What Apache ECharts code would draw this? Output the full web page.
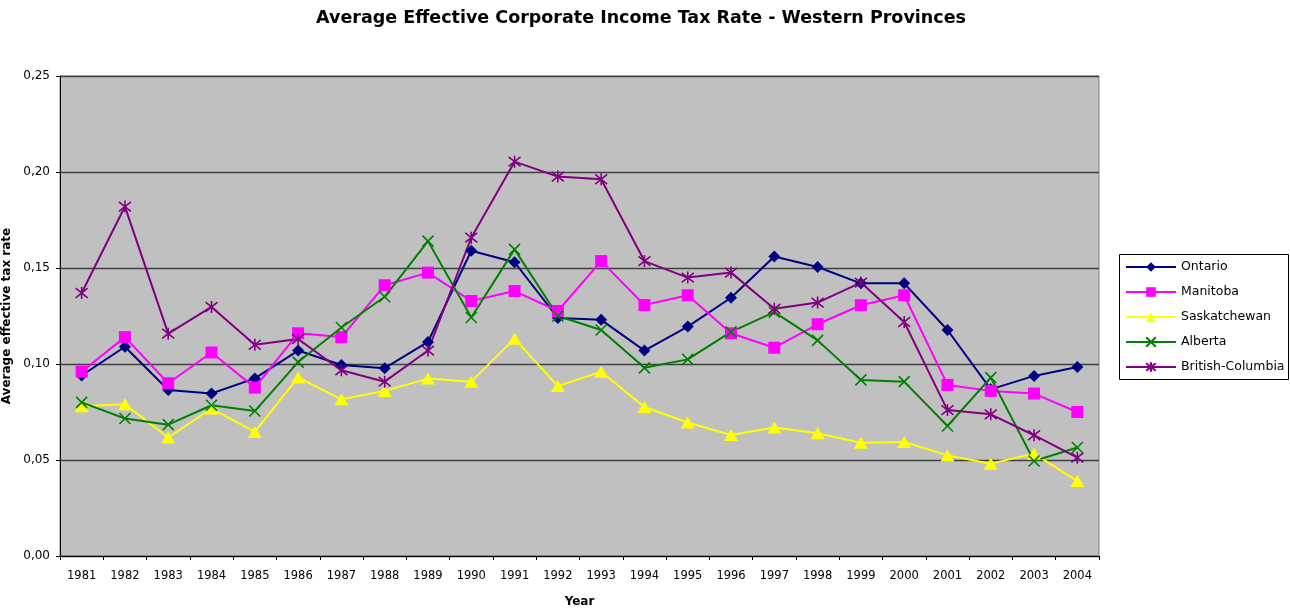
<!DOCTYPE html>
<html>
<head>
<meta charset="utf-8">
<script src="https://cdn.jsdelivr.net/npm/echarts@6/dist/echarts.min.js"></script>
<style>
  html, body { margin: 0; padding: 0; background: #ffffff; }
  #chart { width: 1290px; height: 609px; }
</style>
</head>
<body>
<div id="chart"></div>
<script>
// Average effective corporate income tax rate, 1981-2004
const years = ['1981','1982','1983','1984','1985','1986','1987','1988','1989','1990','1991','1992',
               '1993','1994','1995','1996','1997','1998','1999','2000','2001','2002','2003','2004'];

const ontario = [0.094, 0.109, 0.0865, 0.0846, 0.0925, 0.107, 0.0995, 0.0978, 0.1115, 0.159, 0.153, 0.124,
                 0.123, 0.107, 0.1195, 0.1345, 0.156, 0.1505, 0.142, 0.142, 0.1177, 0.0868, 0.0938, 0.0984];
const manitoba = [0.096, 0.114, 0.090, 0.106, 0.0877, 0.116, 0.114, 0.141, 0.1476, 0.1328, 0.138, 0.1276,
                  0.1536, 0.1307, 0.1358, 0.116, 0.1085, 0.1207, 0.1306, 0.1358, 0.0891, 0.086, 0.0846, 0.075];
const saskatchewan = [0.078, 0.079, 0.0617, 0.0768, 0.0646, 0.093, 0.0816, 0.086, 0.0924, 0.0908, 0.1132, 0.0885,
                      0.096, 0.0776, 0.0695, 0.063, 0.0669, 0.0639, 0.059, 0.0594, 0.0524, 0.0481, 0.0533, 0.039];
const alberta = [0.080, 0.0716, 0.0684, 0.0785, 0.0755, 0.101, 0.119, 0.135, 0.164, 0.1242, 0.1597, 0.125,
                 0.1177, 0.098, 0.1024, 0.1167, 0.127, 0.1123, 0.0917, 0.0908, 0.0677, 0.0929, 0.0495, 0.0565];
const britishColumbia = [0.137, 0.182, 0.1158, 0.1297, 0.110, 0.113, 0.0967, 0.0908, 0.107, 0.1658, 0.2054, 0.1976,
                         0.1962, 0.1536, 0.145, 0.1476, 0.1288, 0.132, 0.1424, 0.1219, 0.076, 0.0738, 0.0629, 0.0512];

const FONT = '"DejaVu Sans", sans-serif';
const X_MARK = 'path://M0,0L10,10M10,0L0,10';
const STAR_MARK = 'path://M1,1L9,9M9,1L1,9M5,0L5,10';

function lineSeries(name, data, color, symbol, size, stroked) {
  return {
    name: name,
    type: 'line',
    data: data,
    symbol: symbol,
    symbolSize: size,
    showAllSymbol: true,
    lineStyle: { color: color, width: 2 },
    itemStyle: stroked
      ? { color: color, borderColor: color, borderWidth: 1.6 }
      : { color: color, borderWidth: 0 },
    emphasis: { disabled: true },
    animation: false
  };
}

const chart = echarts.init(document.getElementById('chart'), null, { renderer: 'canvas' });

chart.setOption({
  backgroundColor: '#ffffff',
  animation: false,
  title: {
    text: 'Average Effective Corporate Income Tax Rate - Western Provinces',
    left: 636,
    textAlign: 'center',
    top: 4,
    textStyle: { fontFamily: FONT, fontSize: 17.5, fontWeight: 'bold', color: '#000' }
  },
  graphic: [{
    type: 'rect',
    z: 0,
    shape: { x: 1119.5, y: 254.5, width: 169, height: 125 },
    style: { fill: '#ffffff', stroke: '#000000', lineWidth: 1 }
  }],
  legend: {
    orient: 'vertical',
    left: 1125,
    top: 260.5,
    itemWidth: 50,
    itemHeight: 12,
    itemGap: 12,
    padding: 0,
    z: 5,
    textStyle: { fontFamily: FONT, fontSize: 12.5, color: '#000' },
    data: ['Ontario', 'Manitoba', 'Saskatchewan', 'Alberta', 'British-Columbia']
  },
  grid: {
    left: 60,
    right: 191,
    top: 76,
    bottom: 53,
    outerBoundsMode: 'none',
    containLabel: false,
    show: true,
    backgroundColor: '#c0c0c0',
    borderColor: '#808080',
    borderWidth: 1
  },
  xAxis: {
    type: 'category',
    data: years,
    boundaryGap: true,
    name: 'Year',
    nameLocation: 'middle',
    nameGap: 40,
    nameTextStyle: { fontFamily: FONT, fontSize: 12, fontWeight: 'bold', color: '#000' },
    axisLine: { lineStyle: { color: '#000', width: 1 } },
    axisTick: { show: true, length: 4, inside: false, lineStyle: { color: '#000' } },
    axisLabel: { fontFamily: FONT, fontSize: 11.5, color: '#000', margin: 14, interval: 0 },
    splitLine: { show: false }
  },
  yAxis: {
    type: 'value',
    min: 0,
    max: 0.25,
    interval: 0.05,
    name: 'Average effective tax rate',
    nameLocation: 'middle',
    nameGap: 44,
    nameTextStyle: { fontFamily: FONT, fontSize: 12, fontWeight: 'bold', color: '#000' },
    axisLine: { show: true, lineStyle: { color: '#000', width: 1 } },
    axisTick: { show: true, length: 4, inside: false, lineStyle: { color: '#000' } },
    axisLabel: {
      fontFamily: FONT, fontSize: 12, color: '#000', margin: 10,
      formatter: v => v.toFixed(2).replace('.', ',')
    },
    splitLine: { show: true, lineStyle: { color: '#404040', width: 1.3 } }
  },
  series: [
    lineSeries('Ontario', ontario, '#000080', 'diamond', 12, false),
    lineSeries('Manitoba', manitoba, '#ff00ff', 'rect', 12, false),
    lineSeries('Saskatchewan', saskatchewan, '#ffff00', 'triangle', [14, 12], false),
    lineSeries('Alberta', alberta, '#008000', X_MARK, 11, true),
    lineSeries('British-Columbia', britishColumbia, '#800080', STAR_MARK, 12, true)
  ]
});
</script>
</body>
</html>
